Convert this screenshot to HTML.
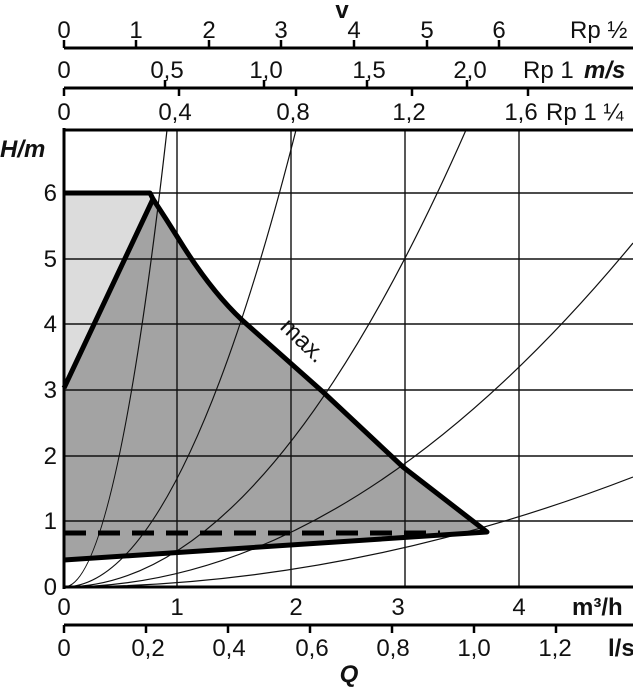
<!DOCTYPE html>
<html><head><meta charset="utf-8"><style>
html,body{margin:0;padding:0;background:#fff;}
svg{display:block;}
text{font-family:"Liberation Sans",sans-serif;font-size:24px;fill:#111;}
.b{font-weight:bold;}
.bi{font-weight:bold;font-style:italic;}
</style></head><body>
<svg width="633" height="689" viewBox="0 0 633 689" xmlns="http://www.w3.org/2000/svg">
<polygon points="64,193 150,193 153,199 64,388" fill="#dcdcdc"/>
<path d="M64,388 L153,199 L166,219 L178,238 Q210,290 242,320 L323,392 L403,467 L487,532 L64,560 Z" fill="#a3a3a3"/>
<g stroke="#111" stroke-width="1.4">
<line x1="177" y1="130" x2="177" y2="587"/>
<line x1="291" y1="130" x2="291" y2="587"/>
<line x1="405" y1="130" x2="405" y2="587"/>
<line x1="519" y1="130" x2="519" y2="587"/>
<line x1="64" y1="193" x2="633" y2="193"/>
<line x1="64" y1="259" x2="633" y2="259"/>
<line x1="64" y1="324" x2="633" y2="324"/>
<line x1="64" y1="390" x2="633" y2="390"/>
<line x1="64" y1="456" x2="633" y2="456"/>
<line x1="64" y1="521" x2="633" y2="521"/>
</g>
<g fill="none" stroke="#111" stroke-width="1.2">
<path d="M64,587 Q115.5,587 167,130"/>
<path d="M64,587 Q180,587 296,130"/>
<path d="M64,587 Q265,587 466,130"/>
<path d="M64,587 Q348.5,587 633,243"/>
<path d="M64,587 Q348.5,587 633,477"/>
</g>
<g fill="none" stroke="#000" stroke-width="5" stroke-linejoin="round">
<polyline points="64,193 150,193 153,199 64,388"/>
<path d="M153,199 L166,219 L178,238 Q210,290 242,320 L323,392 L403,467 L487,532 L64,560"/>
<line x1="64" y1="533" x2="440" y2="533" stroke-dasharray="22,12"/>
</g>
<text x="0" y="0" transform="translate(279,328) rotate(44)" font-size="22">max.</text>
<g stroke="#000" stroke-width="3">
<line x1="64" y1="130" x2="633" y2="130"/>
<line x1="64" y1="128" x2="64" y2="589"/>
<line x1="64" y1="587" x2="633" y2="587"/>
<line x1="64" y1="48" x2="633" y2="48"/>
<line x1="64" y1="88" x2="633" y2="88"/>
<line x1="64" y1="625" x2="633" y2="625"/>
</g>
<g stroke="#000" stroke-width="2.5">
<line x1="64" y1="40" x2="64" y2="48"/><line x1="136" y1="40" x2="136" y2="48"/><line x1="209" y1="40" x2="209" y2="48"/><line x1="281" y1="40" x2="281" y2="48"/><line x1="354" y1="40" x2="354" y2="48"/><line x1="427" y1="40" x2="427" y2="48"/><line x1="499" y1="40" x2="499" y2="48"/>
<line x1="64" y1="88" x2="64" y2="96"/><line x1="165" y1="80" x2="165" y2="88"/><line x1="264" y1="80" x2="264" y2="88"/><line x1="367" y1="80" x2="367" y2="88"/><line x1="467" y1="80" x2="467" y2="88"/>
<line x1="179" y1="88" x2="179" y2="96"/><line x1="296" y1="88" x2="296" y2="96"/><line x1="412" y1="88" x2="412" y2="96"/><line x1="528" y1="88" x2="528" y2="96"/>
<line x1="64" y1="625" x2="64" y2="633"/><line x1="146" y1="625" x2="146" y2="633"/><line x1="228" y1="625" x2="228" y2="633"/><line x1="310" y1="625" x2="310" y2="633"/><line x1="392" y1="625" x2="392" y2="633"/><line x1="474" y1="625" x2="474" y2="633"/><line x1="556" y1="625" x2="556" y2="633"/>
</g>
<text class="b" x="342" y="18" font-size="22" text-anchor="middle">v</text>
<g text-anchor="middle">
<text x="64" y="38">0</text><text x="136" y="38">1</text><text x="209" y="38">2</text><text x="281" y="38">3</text><text x="354" y="38">4</text><text x="427" y="38">5</text><text x="499" y="38">6</text>
<text x="64" y="78">0</text><text x="167" y="78">0,5</text><text x="266" y="78">1,0</text><text x="369" y="78">1,5</text><text x="470" y="78">2,0</text>
<text x="64" y="120">0</text><text x="175" y="120">0,4</text><text x="293" y="120">0,8</text><text x="409" y="120">1,2</text><text x="521" y="120">1,6</text>
</g>
<text x="570" y="38">Rp ½</text>
<text x="523" y="78">Rp 1</text><text class="bi" x="584" y="78">m/s</text>
<text x="546" y="120">Rp 1 ¼</text>
<text class="bi" x="0" y="157">H/m</text>
<g text-anchor="end">
<text x="57" y="201">6</text><text x="57" y="267">5</text><text x="57" y="332">4</text><text x="57" y="398">3</text><text x="57" y="464">2</text><text x="57" y="529">1</text><text x="57" y="595">0</text>
</g>
<g text-anchor="middle">
<text x="64" y="615">0</text><text x="177" y="615">1</text><text x="296" y="615">2</text><text x="398" y="615">3</text><text x="519" y="615">4</text>
<text x="64" y="656">0</text><text x="148" y="656">0,2</text><text x="229" y="656">0,4</text><text x="312" y="656">0,6</text><text x="393" y="656">0,8</text><text x="474" y="656">1,0</text><text x="555" y="656">1,2</text>
</g>
<text class="b" x="572" y="615">m³/h</text>
<text class="b" x="608" y="656">l/s</text>
<text class="bi" x="349" y="682" text-anchor="middle">Q</text>
</svg>
</body></html>
